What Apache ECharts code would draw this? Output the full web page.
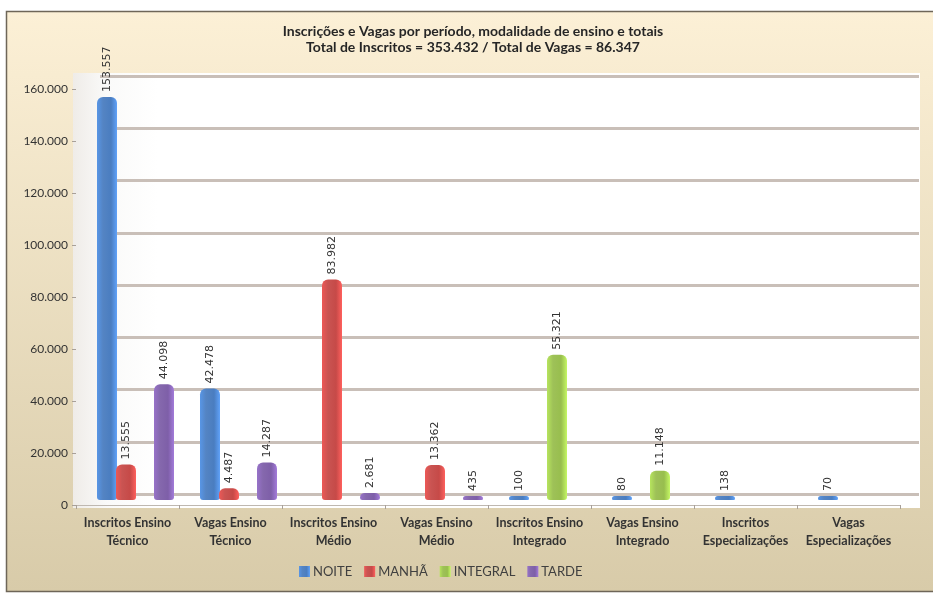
<!DOCTYPE html>
<html>
<head>
<meta charset="utf-8">
<script src="https://cdn.jsdelivr.net/npm/echarts@6/dist/echarts.min.js"></script>
<style>
html,body{margin:0;padding:0;background:#fff;}
#chart{width:933px;height:593px;}
</style>
</head>
<body>
<div id="chart"></div>
<script>
const categories = [
  "Inscritos Ensino\nTécnico",
  "Vagas Ensino\nTécnico",
  "Inscritos Ensino\nMédio",
  "Vagas Ensino\nMédio",
  "Inscritos Ensino\nIntegrado",
  "Vagas Ensino\nIntegrado",
  "Inscritos\nEspecializações",
  "Vagas\nEspecializações"
];
const noite    = [153557, 42478, null, null, 100, 80, 138, 70];
const manha    = [13555, 4487, 83982, 13362, null, null, null, null];
const integral = [null, null, null, null, 55321, 11148, null, null];
const tarde    = [44098, 14287, 2681, 435, null, null, null, null];
const seriesNames = ["NOITE", "MANHÃ", "INTEGRAL", "TARDE"];
const seriesColors = ["#4A7DC0", "#C64A48", "#98BE4E", "#7E5FA8"];
const yTicks = [0, 20000, 40000, 60000, 80000, 100000, 120000, 140000, 160000];

function fmt(v) {
  return String(v).replace(/\B(?=(\d{3})+(?!\d))/g, ".");
}

const chart = echarts.init(document.getElementById('chart'), null, {renderer: 'canvas'});
const values = [noite, manha, integral, tarde];

const option = {
  animation: false,
  textStyle: {fontFamily: 'Lato, "Open Sans", sans-serif'},
  graphic: [
    {
      type: 'rect', z: -10, silent: true,
      shape: {x: 6.5, y: 11.5, width: 960, height: 580},
      style: {
        fill: new echarts.graphic.LinearGradient(0, 0, 0, 1, [
          {offset: 0, color: '#FCF0D6'},
          {offset: 1, color: '#D8CBA9'}
        ]),
        stroke: '#6E6658', lineWidth: 1.5
      }
    },
    {
      type: 'rect', z: -9, silent: true,
      shape: {x: 73, y: 73, width: 847, height: 435},
      style: {
        fill: new echarts.graphic.LinearGradient(0, 0, 1, 0, [
          {offset: 0, color: '#EFECE8'},
          {offset: 0.04, color: '#FAFAF9'},
          {offset: 0.1, color: '#FFFFFF'},
          {offset: 1, color: '#FFFFFF'}
        ])
      }
    }
  ],
  title: {
    text: 'Inscrições e Vagas por período, modalidade de ensino e totais\nTotal de Inscritos = 353.432 / Total de Vagas = 86.347',
    left: 473,
    textAlign: 'center',
    top: 23,
    padding: 0,
    textStyle: {fontSize: 14, fontWeight: 'bold', color: '#262626', lineHeight: 16, fontFamily: 'Lato, sans-serif'}
  },
  legend: {
    data: seriesNames,
    bottom: 10,
    left: 294,
    itemWidth: 11,
    itemHeight: 11,
    itemGap: 12,
    icon: 'rect',
    textStyle: {fontSize: 13, color: '#404040', fontFamily: 'Lato, sans-serif', padding: [0, 0, 0, -2]}
  },
  grid: [
    {left: 76, right: 33, top: 89, bottom: 88},
    {left: 100, right: 14, top: 76, bottom: 99},
    {left: 84, right: 25, top: 80, bottom: 93}
  ],
  xAxis: [
    {
      type: 'category', gridIndex: 0,
      data: categories,
      axisLine: {show: true, lineStyle: {color: '#BFB8B0', width: 1}},
      axisTick: {show: true, length: 4, lineStyle: {color: '#A8A098'}},
      axisLabel: {
        interval: 0, fontSize: 12.5, fontWeight: 'bold', color: '#333',
        lineHeight: 18, margin: 9, fontFamily: 'Lato, sans-serif'
      },
      splitLine: {show: false}
    },
    {
      type: 'category', gridIndex: 1, data: categories, show: false
    },
    {
      type: 'category', gridIndex: 2, data: categories, show: false
    }
  ],
  yAxis: [
    {
      type: 'value', gridIndex: 0,
      min: 0, max: 160000, interval: 20000,
      axisLine: {show: false},
      axisTick: {show: true, length: 4, lineStyle: {color: '#A8A098'}},
      axisLabel: {
        fontSize: 12, color: '#333', margin: 8,
        formatter: function (v) { return yTicks.indexOf(v) >= 0 ? fmt(v) : ''; }
      },
      splitLine: {show: false}
    },
    {
      type: 'value', gridIndex: 1,
      min: 0, max: 160000, interval: 20000,
      axisLine: {show: false}, axisTick: {show: false}, axisLabel: {show: false},
      splitLine: {show: true, lineStyle: {color: '#C9BFB8', width: 3}}
    },
    {
      type: 'value', gridIndex: 2,
      min: 0, max: 160000, interval: 20000,
      show: false, splitLine: {show: false}
    }
  ],
  series: seriesNames.map(function (name, i) {
    return {
      name: name,
      type: 'bar',
      xAxisIndex: 2,
      yAxisIndex: 2,
      data: values[i],
      barWidth: 20,
      barGap: '-5%',
      barMinHeight: 4,
      itemStyle: {
        color: new echarts.graphic.LinearGradient(0, 0, 1, 0, [
          {offset: 0, color: echarts.color.lift(seriesColors[i], -0.2)},
          {offset: 0.3, color: echarts.color.lift(seriesColors[i], 0.06)},
          {offset: 0.7, color: seriesColors[i]},
          {offset: 1, color: echarts.color.lift(seriesColors[i], -0.3)}
        ]),
        borderRadius: [6, 6, 3, 3]
      },
      label: {
        show: true,
        position: 'top',
        rotate: 90,
        align: 'left',
        verticalAlign: 'middle',
        distance: 5,
        fontSize: 11,
        color: '#333',
        fontFamily: '"DejaVu Sans", sans-serif',
        formatter: function (p) { return p.value == null ? '' : fmt(p.value); }
      }
    };
  })
};
chart.setOption(option);
</script>
</body>
</html>
